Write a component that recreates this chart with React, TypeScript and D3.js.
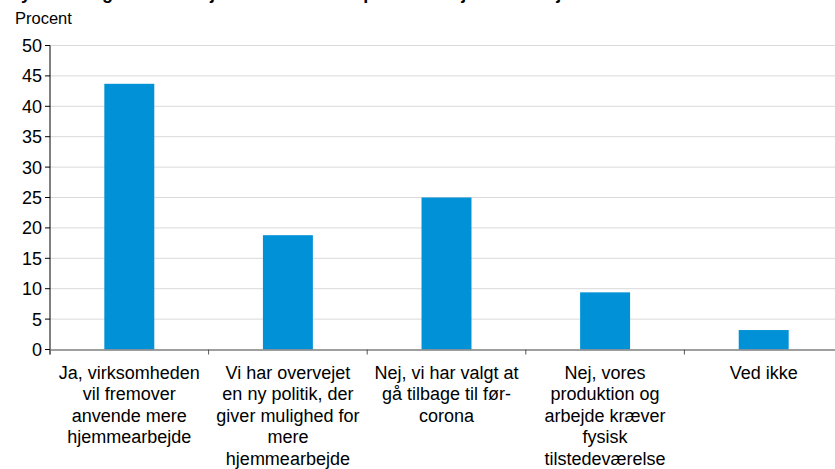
import React from "react";
import * as d3 from "d3";

const title = "Nye erfaringer: Ændrer jeres virksomhed politik for hjemmearbejde fremadrettet efter corona?";
const yLabel = "Procent";
const categories = [
  ["Ja, virksomheden", "vil fremover", "anvende mere", "hjemmearbejde"],
  ["Vi har overvejet", "en ny politik, der", "giver mulighed for", "mere", "hjemmearbejde"],
  ["Nej, vi har valgt at", "gå tilbage til før-", "corona"],
  ["Nej, vores", "produktion og", "arbejde kræver", "fysisk", "tilstedeværelse"],
  ["Ved ikke"],
];
const values = [43.7, 18.8, 25.0, 9.4, 3.2];
const yTicks = [0, 5, 10, 15, 20, 25, 30, 35, 40, 45, 50];

const W = 835;
const H = 469;
const left = 50;
const right = 843;
const top = 45.5;
const bottom = 349.5;
const font = "'Liberation Sans', Arial, sans-serif";

export default function App() {
  const idx = categories.map((_, i) => String(i));
  const x = d3.scaleBand<string>().domain(idx).range([left, right]).paddingInner(0.685).paddingOuter(0.685 / 2);
  const y = d3.scaleLinear().domain([0, 50]).range([bottom, top]);
  const step = x.step();
  const boundaries = d3.range(categories.length + 1).map((i) => left + i * step);

  return (
    <div style={{ position: "fixed", left: 0, top: 0, width: W, height: H, background: "#fff" }}>
      <svg width={W} height={H} style={{ display: "block" }} fontFamily={font}>
        <text x={8} y={-1} fontSize={18} fontWeight="bold" fill="#000">{title}</text>
        <text x={15} y={24} fontSize={16.5} fill="#000">{yLabel}</text>
        {yTicks.map((t) => (
          <g key={t}>
            {t > 0 && <line x1={left} x2={W} y1={y(t)} y2={y(t)} stroke="#d9d9d9" strokeWidth={1} />}
            <line x1={left - 5} x2={left} y1={y(t)} y2={y(t)} stroke="#000" strokeWidth={1} />
            <text x={left - 8} y={y(t)} dy="0.36em" textAnchor="end" fontSize={18} fill="#000">{t}</text>
          </g>
        ))}
        {values.map((v, i) => (
          <rect key={i} x={x(String(i))} y={y(v)} width={x.bandwidth()} height={y(0) - y(v)} fill="#0091d7" />
        ))}
        <line x1={left} x2={left} y1={top} y2={bottom + 5} stroke="#000" strokeWidth={1} />
        <line x1={left} x2={W} y1={bottom + 0.5} y2={bottom + 0.5} stroke="#7f7f7f" strokeWidth={1.5} />
        {boundaries.map((b, i) => (
          <line key={i} x1={b} x2={b} y1={bottom} y2={bottom + 5} stroke="#555" strokeWidth={1} />
        ))}
        {categories.map((lines, i) => (
          <text key={i} x={(x(String(i)) as number) + x.bandwidth() / 2} y={378.5} textAnchor="middle" fontSize={18} fill="#000">
            {lines.map((l, j) => (
              <tspan key={j} x={(x(String(i)) as number) + x.bandwidth() / 2} dy={j === 0 ? 0 : 21.6}>{l}</tspan>
            ))}
          </text>
        ))}
      </svg>
    </div>
  );
}
